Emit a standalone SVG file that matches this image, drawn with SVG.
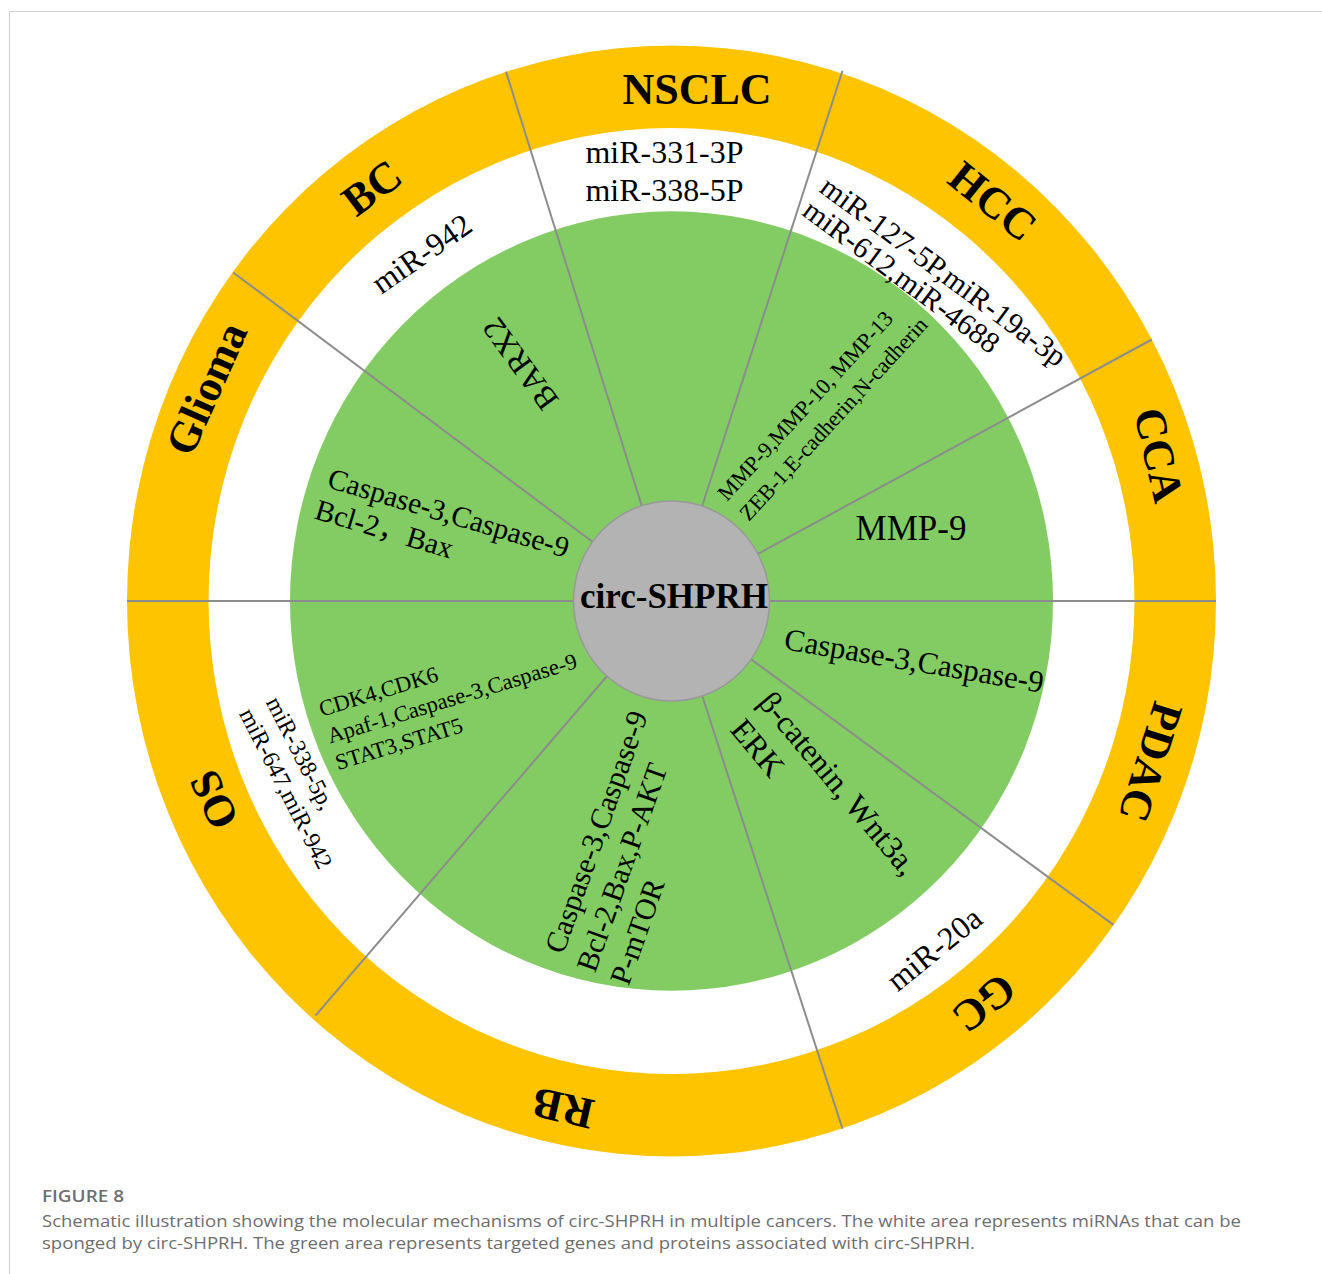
<svg xmlns="http://www.w3.org/2000/svg" width="1322" height="1274" viewBox="0 0 1322 1274">
<style>
.s{font-family:"Liberation Serif","Times New Roman","Noto Sans CJK SC",serif;fill:#000}
.b{font-weight:bold;font-size:44px;text-anchor:middle}
.m{text-anchor:middle}
.div{stroke:#8c8c8c;stroke-width:2;fill:none}
.cap{font-family:"Open Sans","Liberation Sans",sans-serif;fill:#6e6e6e;font-size:17px}
</style>
<rect width="1322" height="1274" fill="#fff"/>
<g id="frame"><path d="M9.5 1274V11.5H1322" fill="none" stroke="#cfcfcf" stroke-width="1"/></g>
<g id="rings">
<ellipse cx="671.5" cy="601" rx="544.5" ry="555.5" fill="#FFC400"/>
<ellipse cx="671.5" cy="601" rx="463" ry="473" fill="#fff"/>
<ellipse cx="671.5" cy="601" rx="381.5" ry="389.7" fill="#82CC63"/>
</g>
<g id="dividers" class="div">
<line x1="127" y1="601" x2="1216" y2="601"/>
<line x1="671.5" y1="601" x2="506" y2="71.6"/>
<line x1="671.5" y1="601" x2="233.2" y2="272.5"/>
<line x1="671.5" y1="601" x2="842.5" y2="70.8"/>
<line x1="671.5" y1="601" x2="1151.8" y2="339.5"/>
<line x1="671.5" y1="601" x2="1113.5" y2="924.9"/>
<line x1="671.5" y1="601" x2="842.5" y2="1128.8"/>
<line x1="671.5" y1="601" x2="315.5" y2="1015.6"/>
</g>
<g id="center">
<ellipse cx="671.5" cy="601" rx="98" ry="100" fill="#b3b3b3" stroke="#999" stroke-width="1.5"/>
<text class="s m" x="674" y="608" font-size="35" font-weight="bold">circ-SHPRH</text>
</g>
<g id="nsclc" class="s">
<text class="b" x="697" y="104">NSCLC</text>
<text class="m" x="664.5" y="162.6" font-size="31" textLength="158" lengthAdjust="spacingAndGlyphs">miR-331-3P</text>
<text class="m" x="664.5" y="201" font-size="31" textLength="158" lengthAdjust="spacingAndGlyphs">miR-338-5P</text>
</g>
<g id="bc" class="s">
<text class="b" transform="translate(371.7,187.5) rotate(-37)" y="15">BC</text>
<text class="m" transform="translate(421.5,253.4) rotate(-35)" y="11" font-size="32">miR-942</text>
<text class="m" transform="translate(520,364) rotate(-126)" y="11" font-size="32">BARX2</text>
</g>
<g id="glioma" class="s">
<text class="b" transform="translate(206.2,388.4) rotate(-66)" y="15">Glioma</text>
<g transform="translate(326,487) rotate(16.5)" font-size="29.5">
<text x="0" y="0">Caspase-3,Caspase-9</text>
<text x="-3.3" y="33.6">Bcl-2，Bax</text>
</g>
</g>
<g id="hcc" class="s">
<text class="b" transform="translate(993,201) rotate(39)" y="15">HCC</text>
<g transform="translate(818,191) rotate(36.5)" font-size="30">
<text x="0" y="0">miR-127-5P,miR-19a-3p</text>
<text x="0" y="29">miR-612,miR-4688</text>
</g>
<g transform="translate(727,502) rotate(-47.5)" font-size="22">
<text x="0" y="0">MMP-9,MMP-10, MMP-13</text>
<text x="0" y="29.6">ZEB-1,E-cadherin,N-cadherin</text>
</g>
</g>
<g id="cca" class="s">
<text class="b" transform="translate(1159,455) rotate(77)" y="15">CCA</text>
<text class="m" x="911" y="540" font-size="35">MMP-9</text>
</g>
<g id="pdac" class="s">
<text class="b" transform="translate(1151,762) rotate(107.5)" y="15">PDAC</text>
<text transform="translate(783,649) rotate(9.6)" font-size="31">Caspase-3,Caspase-9</text>
</g>
<g id="gc" class="s">
<text class="b" transform="translate(984.5,1003.3) rotate(142)" y="15">GC</text>
<text class="m" transform="translate(934,948.8) rotate(-39)" y="11" font-size="32">miR-20a</text>
<g transform="translate(757,703) rotate(50)" font-size="32">
<text x="0" y="0">β-catenin, Wnt3a,</text>
<text x="3" y="39">ERK</text>
</g>
</g>
<g id="rb" class="s">
<text class="b" transform="translate(563,1108.6) rotate(193)" y="15">RB</text>
<g transform="translate(563.3,955) rotate(-70.5)" font-size="30">
<text x="0" y="0">Caspase-3,Caspase-9</text>
<text x="-7" y="36">Bcl-2,Bax,P-AKT</text>
<text x="-8" y="72">P-mTOR</text>
</g>
</g>
<g id="os" class="s">
<text class="b" transform="translate(213.5,800) rotate(-115)" y="15">OS</text>
<g transform="translate(265.5,702) rotate(63)" font-size="24">
<text x="0" y="0">miR-338-5p,</text>
<text x="-2" y="29">miR-647,miR-942</text>
</g>
<g transform="translate(321.7,716.7) rotate(-17)" font-size="22.5">
<text x="0" y="0">CDK4,CDK6</text>
<text x="0" y="28">Apaf-1,Caspase-3,Caspase-9</text>
<text x="0" y="56">STAT3,STAT5</text>
</g>
</g>
<g id="caption">
<text class="cap" x="42" y="1202" font-size="18" font-weight="600" fill="#666" textLength="82" lengthAdjust="spacingAndGlyphs">FIGURE 8</text>
<text class="cap" x="42" y="1227" textLength="1199" lengthAdjust="spacingAndGlyphs">Schematic illustration showing the molecular mechanisms of circ-SHPRH in multiple cancers. The white area represents miRNAs that can be</text>
<text class="cap" x="42" y="1249" textLength="933" lengthAdjust="spacingAndGlyphs">sponged by circ-SHPRH. The green area represents targeted genes and proteins associated with circ-SHPRH.</text>
</g>
</svg>
